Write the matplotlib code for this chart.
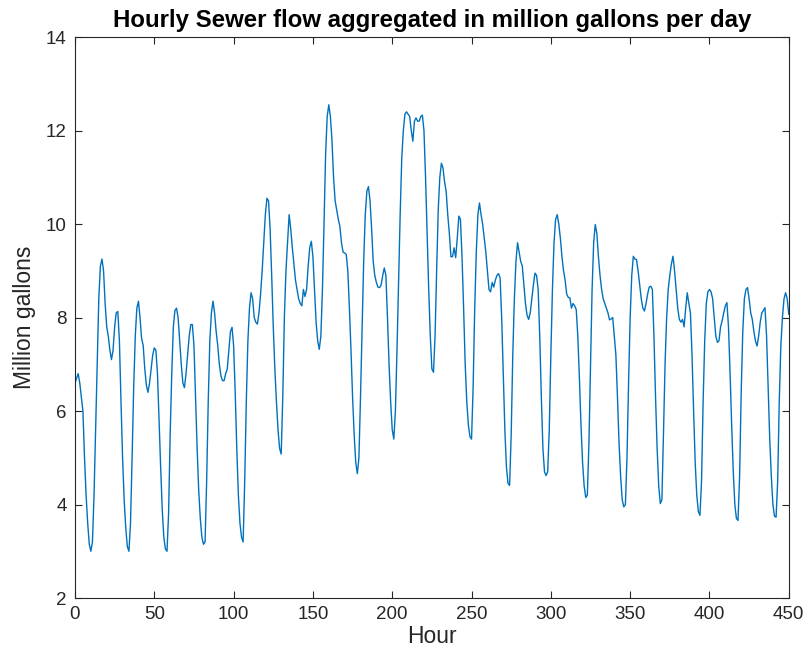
import matplotlib
matplotlib.use("Agg")
import matplotlib.pyplot as plt

plt.rcParams['font.family'] = ['Liberation Sans', 'DejaVu Sans']

# hourly sewer flow, million gallons per day
flow = [
    6.6, 6.7, 6.8, 6.6, 6.3, 6.0, 5.0, 4.2, 3.6, 3.15,
    3.0, 3.2, 4.2, 5.6, 7.0, 8.4, 9.1, 9.25, 9.0, 8.3,
    7.8, 7.6, 7.3, 7.1, 7.3, 7.8, 8.1, 8.13, 7.5, 6.2,
    5.0, 4.1, 3.5, 3.1, 3.0, 3.6, 5.0, 6.5, 7.6, 8.2,
    8.35, 8.0, 7.55, 7.4, 6.9, 6.55, 6.4, 6.6, 6.9, 7.2,
    7.35, 7.3, 6.8, 5.8, 4.8, 3.9, 3.3, 3.05, 3.0, 3.8,
    5.5, 6.8, 7.8, 8.15, 8.2, 8.0, 7.5, 7.0, 6.6, 6.5,
    6.8, 7.2, 7.6, 7.85, 7.85, 7.4, 6.3, 5.2, 4.3, 3.7,
    3.3, 3.15, 3.2, 4.5, 6.2, 7.5, 8.1, 8.35, 8.1, 7.7,
    7.4, 7.0, 6.75, 6.65, 6.65, 6.8, 6.9, 7.3, 7.7, 7.79,
    7.4, 6.4, 5.2, 4.2, 3.6, 3.3, 3.2, 4.5, 6.2, 7.5,
    8.2, 8.53, 8.4, 8.0, 7.9, 7.86, 8.1, 8.5, 9.0, 9.6,
    10.2, 10.55, 10.5, 9.9, 8.9, 7.8, 6.9, 6.2, 5.6, 5.2,
    5.08, 6.3, 8.0, 9.0, 9.6, 10.2, 9.9, 9.5, 9.14, 8.8,
    8.6, 8.4, 8.3, 8.25, 8.6, 8.45, 8.6, 9.1, 9.5, 9.63,
    9.3, 8.6, 7.9, 7.5, 7.32, 7.6, 8.6, 10.0, 11.5, 12.3,
    12.55, 12.3, 11.8, 11.0, 10.5, 10.3, 10.1, 9.95, 9.6, 9.4,
    9.38, 9.35, 9.0, 8.2, 7.3, 6.3, 5.5, 4.9, 4.66, 5.0,
    6.3, 7.8, 9.2, 10.2, 10.7, 10.8, 10.5, 9.9, 9.2, 8.9,
    8.75, 8.65, 8.64, 8.7, 8.9, 9.06, 8.9, 8.0, 7.0, 6.2,
    5.6, 5.4, 6.0, 7.3, 8.8, 10.2, 11.4, 12.0, 12.35, 12.4,
    12.35, 12.3, 12.0, 11.77, 12.2, 12.27, 12.2, 12.2, 12.3, 12.33,
    12.0, 11.0, 9.8, 8.6, 7.6, 6.9, 6.83, 7.6, 9.0, 10.3,
    11.0, 11.3, 11.2, 10.9, 10.7, 10.2, 9.8, 9.3, 9.3, 9.49,
    9.28, 9.7, 10.17, 10.1, 9.3, 8.2, 7.0, 6.2, 5.7, 5.45,
    5.4, 6.5, 8.2, 9.4, 10.2, 10.45, 10.2, 10.0, 9.7, 9.4,
    9.0, 8.6, 8.55, 8.75, 8.65, 8.8, 8.9, 8.94, 8.85, 8.0,
    6.8, 5.6, 4.8, 4.45, 4.41, 5.5, 7.2, 8.4, 9.2, 9.6,
    9.4, 9.2, 9.1, 8.7, 8.3, 8.05, 7.96, 8.1, 8.4, 8.7,
    8.95, 8.9, 8.6, 7.6, 6.3, 5.2, 4.7, 4.62, 4.7, 5.6,
    7.2, 8.6, 9.6, 10.1, 10.2, 10.0, 9.7, 9.3, 9.0, 8.8,
    8.5, 8.43, 8.42, 8.2, 8.3, 8.25, 8.17, 7.6, 6.7, 5.7,
    4.9, 4.4, 4.15, 4.2, 5.3, 7.0, 8.6, 9.6, 9.99, 9.8,
    9.3, 8.9, 8.6, 8.4, 8.3, 8.2, 8.1, 7.95, 7.97, 8.0,
    7.6, 7.2, 6.3, 5.3, 4.6, 4.1, 3.95, 4.0, 5.0, 6.6,
    8.0, 8.9, 9.31, 9.25, 9.24, 9.0, 8.7, 8.4, 8.2, 8.14,
    8.3, 8.5, 8.65, 8.67, 8.6, 7.6, 6.3, 5.2, 4.4, 4.02,
    4.1, 5.5, 7.0, 8.0, 8.6, 8.9, 9.15, 9.31, 9.0, 8.6,
    8.2, 7.96, 7.9, 7.96, 7.8, 8.2, 8.53, 8.3, 8.1, 7.2,
    6.0, 4.9, 4.2, 3.85, 3.77, 4.5, 6.2, 7.5, 8.3, 8.55,
    8.6, 8.55, 8.4, 8.0, 7.6, 7.47, 7.5, 7.8, 7.93, 8.1,
    8.25, 8.32, 7.8, 6.8, 5.7, 4.7, 4.0, 3.7, 3.66, 4.6,
    6.4, 7.7, 8.4, 8.6, 8.64, 8.4, 8.1, 7.96, 7.7, 7.5,
    7.39, 7.6, 7.9, 8.1, 8.15, 8.21, 7.6, 6.5, 5.4, 4.6,
    4.0, 3.75, 3.73, 4.5, 6.2, 7.4, 8.0, 8.4, 8.53, 8.4,
    8.07,
]
hours = list(range(len(flow)))

xticks = [0, 50, 100, 150, 200, 250, 300, 350, 400, 450]
yticks = [2, 4, 6, 8, 10, 12, 14]

fig = plt.figure(figsize=(8.09, 6.67), dpi=100)
ax = fig.add_axes([0.0927, 0.1034, 0.8823, 0.8411])

ax.plot(hours, flow, color='#0072BD', linewidth=1.0)

ax.set_xlim(0, 450)
ax.set_ylim(2, 14)
ax.set_xticks(xticks)
ax.set_yticks(yticks)
ax.tick_params(direction='in', length=5, width=0.8, colors='#262626',
               labelsize=13.5, top=True, right=True, pad=6)
for s in ax.spines.values():
    s.set_color('#262626')
    s.set_linewidth(0.8)

ax.set_xlabel('Hour', fontsize=16.5, color='#262626', labelpad=1)
ax.set_ylabel('Million gallons', fontsize=16.5, color='#262626', labelpad=7)
ax.set_title('Hourly Sewer flow aggregated in million gallons per day',
             fontsize=17.3, fontweight='bold', color='black', pad=7)

fig.savefig('out.png', dpi=100)
